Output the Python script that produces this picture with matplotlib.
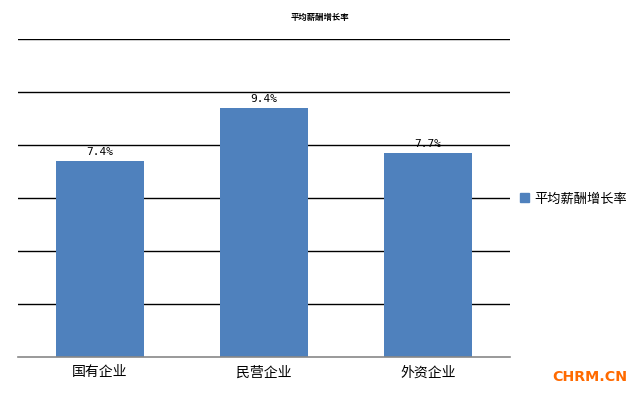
import matplotlib
matplotlib.use("Agg")
import matplotlib.pyplot as plt
import matplotlib.patches as mpatches

plt.rcParams['font.family'] = ['Noto Sans CJK SC', 'DejaVu Sans']

# data
categories = ['国有企业', '民营企业', '外资企业']
growth = [7.4, 9.4, 7.7]
labels = ['7.4%', '9.4%', '7.7%']
series_name = '平均薪酬增长率'
title = '平均薪酬增长率'

bar_color = '#4F81BD'

fig = plt.figure(figsize=(6.4, 3.96), dpi=100)
ax = fig.add_axes([18 / 640, 1 - 357 / 396, (510 - 18) / 640, (357 - 39) / 396])

x = range(len(categories))
ax.bar(x, growth, width=0.54, color=bar_color, zorder=2)

# value labels
for i, (v, lab) in enumerate(zip(growth, labels)):
    ax.text(i, v + 0.15, lab, ha='center', va='bottom', fontsize=8,
            family='DejaVu Sans Mono', color='black', zorder=3)

ax.set_xlim(-0.5, len(categories) - 0.5)
ax.set_ylim(0, 12)
ax.set_yticks([2, 4, 6, 8, 10, 12])
ax.set_yticklabels([])
ax.tick_params(axis='y', length=0)
ax.tick_params(axis='x', length=0, pad=6)
ax.set_xticks(list(x))
ax.set_xticklabels(categories, fontsize=10)

ax.grid(True, axis='y', color='black', linewidth=1, zorder=0)
ax.set_axisbelow(True)
for side in ['top', 'right', 'left']:
    ax.spines[side].set_visible(False)
ax.spines['bottom'].set_color('#888888')
ax.spines['bottom'].set_linewidth(1.2)

fig.text(320 / 640, 1 - 17 / 396, title, ha='center', va='center',
         fontsize=6, fontweight='bold')

# legend
handle = mpatches.Patch(color=bar_color, label=series_name)
fig.legend(handles=[handle], loc='center left', bbox_to_anchor=(508 / 640, 1 - 199 / 396),
           frameon=False, fontsize=9.5, handlelength=0.7, handleheight=0.7,
           handletextpad=0.4)

# watermark
fig.text(590 / 640, 1 - 377 / 396, 'CHRM.CN', ha='center', va='center',
         fontsize=10.3, fontweight='bold', color='#FF6A00', family='DejaVu Sans')

fig.savefig('out.png', dpi=100)
